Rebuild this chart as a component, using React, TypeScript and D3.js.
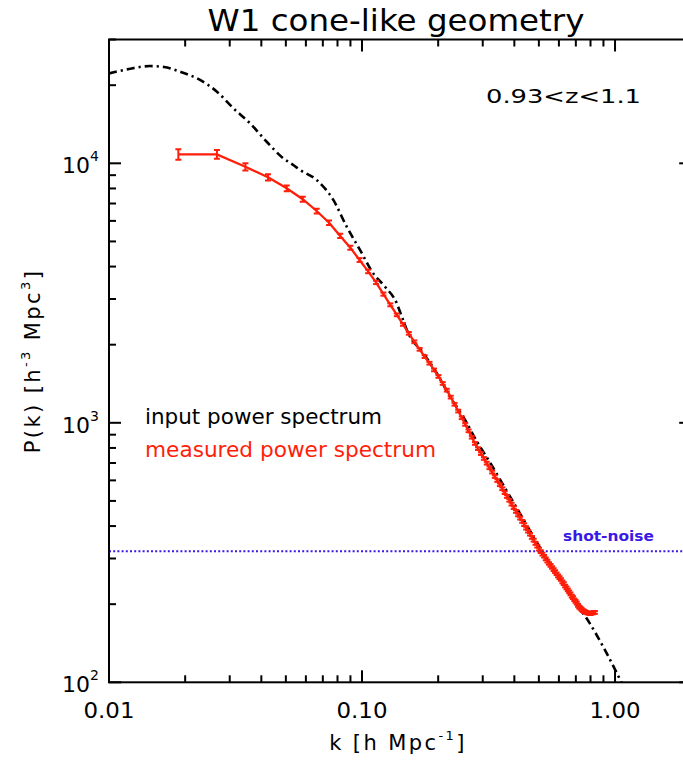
import React from "react";
import * as d3 from "d3";

const W = 683;
const H = 761;

// axes
const kDomain = [0.01, 2];
const pDomain = [100, 30000];
const kMajor = [0.01, 0.1, 1];
const kMajorLabels = ["0.01", "0.10", "1.00"];
const pMajor = [100, 1000, 10000];
const pMajorExp = ["2", "3", "4"];

// measured power spectrum (red)
const redK = [
  0.0188, 0.0267, 0.0346, 0.0425, 0.0504, 0.0583, 0.0662, 0.0741, 0.082, 0.0899,
  0.0978, 0.1057, 0.1136, 0.1215, 0.1294, 0.1373, 0.1452, 0.1531, 0.161, 0.1689,
  0.1768, 0.1847, 0.1926, 0.2005, 0.2084, 0.2163, 0.2242, 0.2321, 0.24, 0.2479,
  0.2558, 0.2637, 0.2716, 0.2795, 0.2874, 0.2953, 0.3032, 0.3111, 0.319, 0.3269,
  0.3348, 0.3427, 0.3506, 0.3585, 0.3664, 0.3743, 0.3822, 0.3901, 0.398, 0.4059,
  0.4138, 0.4217, 0.4296, 0.4375, 0.4454, 0.4533, 0.4612, 0.4691, 0.477, 0.4849,
  0.4928, 0.5007, 0.5086, 0.5165, 0.5244, 0.5323, 0.5402, 0.5481, 0.556, 0.5639,
  0.5718, 0.5797, 0.5876, 0.5955, 0.6034, 0.6113, 0.6192, 0.6271, 0.635, 0.6429,
  0.6508, 0.6587, 0.6666, 0.6745, 0.6824, 0.6903, 0.6982, 0.7061, 0.714, 0.7219,
  0.7298, 0.7377, 0.7456, 0.7535, 0.7614, 0.7693, 0.7772, 0.7851, 0.793, 0.8009,
  0.8088, 0.8167, 0.8246, 0.8325,
];
const redP = [
  10830, 10830, 9700, 8830, 8010, 7270, 6550, 5900, 5250, 4730,
  4240, 3832, 3477, 3133, 2849, 2606, 2395, 2212, 2052, 1919,
  1800, 1697, 1599, 1509, 1418, 1336, 1256, 1179, 1110, 1046,
  986, 931, 880, 833, 795, 761, 729, 699, 671, 646,
  621, 599, 577, 557, 538, 520, 503, 486, 471, 456,
  442, 429, 417, 405, 393, 382, 372, 362, 353, 343,
  335, 326, 319, 312, 306, 299, 293, 287, 282, 277,
  272, 267, 262, 257, 253, 249, 244, 240, 235, 231,
  227, 223, 219, 215, 212, 208, 205, 202, 198, 195,
  193, 191, 189, 188, 187, 186, 185, 185, 184, 184,
  185, 185, 186, 186,
];
// relative errors of the first bins; later bins use the last value
const redRelErr = [0.047, 0.039, 0.032, 0.028, 0.025, 0.023, 0.021, 0.02, 0.019, 0.018, 0.017, 0.016, 0.015, 0.014, 0.013, 0.012];

// input power spectrum (black dash-dot)
const blackK = [
  0.01, 0.012, 0.0145, 0.0165, 0.0191, 0.0229, 0.0267, 0.031, 0.0361, 0.042,
  0.0489, 0.0535, 0.0569, 0.0662, 0.077, 0.087, 0.0982, 0.1108, 0.1233, 0.1372,
  0.1436, 0.1524, 0.1747, 0.1973, 0.2227, 0.2554, 0.284, 0.32, 0.36, 0.4,
  0.45, 0.5208, 0.6, 0.684, 0.773, 0.924, 1.06, 1.1,
];
const blackP = [
  22200, 23100, 23700, 23500, 22540, 20950, 18880, 16300, 14260, 12110,
  10450, 9850, 9424, 8622, 7225, 5698, 4636, 3766, 3346, 2887,
  2565, 2213, 1854, 1553, 1261, 1025, 850, 705, 580, 487,
  400, 314, 255, 207.5, 176, 130, 100, 93,
];

const shotNoise = 320;

const FONT = "'DejaVu Sans', Verdana, sans-serif";
const RED = "#ff1e0a";
const BLUE = "#3a18e6";

export default function App() {
  const left = 109;
  const right = 691.2;
  const top = 39.5;
  const bottom = 682.3;
  const x = d3.scaleLog().domain(kDomain).range([left, right]);
  const y = d3.scaleLog().domain(pDomain).range([bottom, top]);

  const kMinor: number[] = [];
  [0.01, 0.1, 1].forEach((d) => {
    for (let m = 2; m <= 9; m++) if (d * m <= kDomain[1] + 1e-9) kMinor.push(d * m);
  });
  const pMinor: number[] = [];
  [100, 1000, 10000].forEach((d) => {
    for (let m = 2; m <= 9; m++) if (d * m <= pDomain[1] + 1e-9) pMinor.push(d * m);
  });

  const blackLine = d3
    .line<number>()
    .x((_, i) => x(blackK[i]))
    .y((d) => y(d))
    .curve(d3.curveMonotoneX)(blackP);
  const redLine = d3
    .line<number>()
    .x((_, i) => x(redK[i]))
    .y((d) => y(d))(redP);

  const majorLen = 12;
  const minorLen = 7;

  return (
    <svg
      width={W}
      height={H}
      style={{ position: "absolute", left: 0, top: 0, background: "#fff" }}
      fontFamily={FONT}
    >
      <defs>
        <clipPath id="plotclip">
          <rect x={left} y={top} width={right - left} height={bottom - top} />
        </clipPath>
      </defs>
      <rect x={0} y={0} width={W} height={H} fill="#fff" />

      {/* title */}
      <text x={396} y={31} textAnchor="middle" fontSize={30} textLength={377} lengthAdjust="spacingAndGlyphs">
        W1 cone-like geometry
      </text>

      <g clipPath="url(#plotclip)">
        {/* shot noise */}
        <line
          x1={left}
          x2={right}
          y1={y(shotNoise)}
          y2={y(shotNoise)}
          stroke={BLUE}
          strokeWidth={2}
          strokeDasharray="2,2.2"
        />
        {/* input spectrum */}
        <path d={blackLine || ""} fill="none" stroke="#000" strokeWidth={2.6} strokeDasharray="8,4,2.2,4" />
        {/* measured spectrum */}
        <path d={redLine || ""} fill="none" stroke={RED} strokeWidth={2.3} />
        {redP.map((p, i) => {
          const e = redRelErr[Math.min(i, redRelErr.length - 1)];
          const cx = x(redK[i]);
          const y1 = y(p * (1 + e));
          const y2 = y(p * (1 - e));
          return (
            <g key={i} stroke={RED} strokeWidth={2}>
              <line x1={cx} x2={cx} y1={y1} y2={y2} />
              <line x1={cx - 3} x2={cx + 3} y1={y1} y2={y1} />
              <line x1={cx - 3} x2={cx + 3} y1={y2} y2={y2} />
            </g>
          );
        })}
      </g>

      {/* axes frame */}
      <g stroke="#000" strokeWidth={2} fill="none">
        <rect x={left} y={top} width={right - left} height={bottom - top} />
        {kMajor.map((k) => (
          <g key={"km" + k}>
            <line x1={x(k)} x2={x(k)} y1={bottom} y2={bottom - majorLen} />
            <line x1={x(k)} x2={x(k)} y1={top} y2={top + majorLen} />
          </g>
        ))}
        {kMinor.map((k) => (
          <g key={"kn" + k}>
            <line x1={x(k)} x2={x(k)} y1={bottom} y2={bottom - minorLen} />
            <line x1={x(k)} x2={x(k)} y1={top} y2={top + minorLen} />
          </g>
        ))}
        {pMajor.map((p) => (
          <g key={"pm" + p}>
            <line x1={left} x2={left + majorLen} y1={y(p)} y2={y(p)} />
            <line x1={right} x2={right - majorLen} y1={y(p)} y2={y(p)} />
          </g>
        ))}
        {pMinor.map((p) => (
          <g key={"pn" + p}>
            <line x1={left} x2={left + minorLen} y1={y(p)} y2={y(p)} />
            <line x1={right} x2={right - minorLen} y1={y(p)} y2={y(p)} />
          </g>
        ))}
      </g>

      {/* x tick labels */}
      {kMajor.map((k, i) => (
        <text key={"kl" + k} x={x(k)} y={718} textAnchor="middle" fontSize={22} textLength={51} lengthAdjust="spacingAndGlyphs">
          {kMajorLabels[i]}
        </text>
      ))}
      {/* y tick labels */}
      {pMajor.map((p, i) => (
        <text key={"pl" + p} x={99} y={y(p) + 10} textAnchor="end" fontSize={22}>
          10
          <tspan dy={-12} fontSize={14}>
            {pMajorExp[i]}
          </tspan>
        </text>
      ))}

      {/* axis titles */}
      <text x={398} y={750} textAnchor="middle" fontSize={21} letterSpacing={2.4}>
        k [h Mpc
        <tspan dy={-10} fontSize={13}>
          -1
        </tspan>
        <tspan dy={10}>]</tspan>
      </text>
      <text transform={`translate(40, 361) rotate(-90)`} textAnchor="middle" fontSize={21} letterSpacing={2.4}>
        P(k) [h
        <tspan dy={-10} fontSize={13}>
          -3
        </tspan>
        <tspan dy={10}> Mpc</tspan>
        <tspan dy={-10} fontSize={13}>
          3
        </tspan>
        <tspan dy={10}>]</tspan>
      </text>

      {/* annotations */}
      <text x={486} y={103} fontSize={20} textLength={155} lengthAdjust="spacingAndGlyphs">
        0.93&lt;z&lt;1.1
      </text>
      <text x={145} y={424} fontSize={21} textLength={237} lengthAdjust="spacingAndGlyphs">
        input power spectrum
      </text>
      <text x={145} y={457} fontSize={21} fill={RED} textLength={291} lengthAdjust="spacingAndGlyphs">
        measured power spectrum
      </text>
      <text x={563} y={541} fontSize={14} fontWeight="bold" fill={BLUE} textLength={91} lengthAdjust="spacingAndGlyphs">
        shot-noise
      </text>
    </svg>
  );
}
